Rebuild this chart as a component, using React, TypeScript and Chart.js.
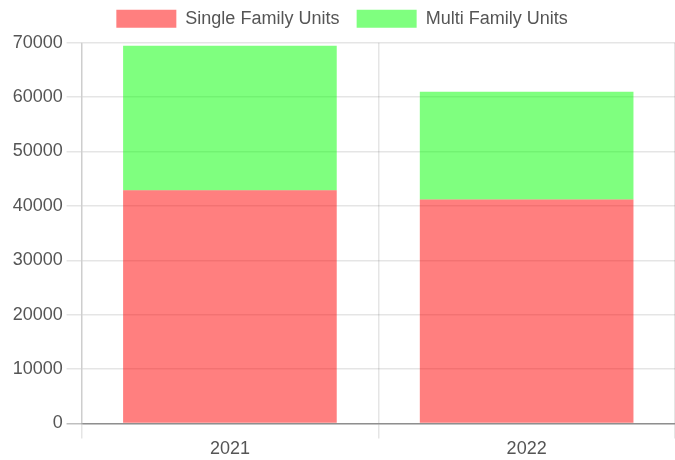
import React, { useEffect, useRef } from "react";
import { Chart, registerables } from "chart.js";

Chart.register(...registerables);

const categories = ["2021", "2022"];
const singleFamily = [42900, 41200];
const multiFamily = [26550, 19800];
const yTicks = [0, 10000, 20000, 30000, 40000, 50000, 60000, 70000];

export default function App() {
  const ref = useRef<HTMLCanvasElement>(null);
  useEffect(() => {
    if (!ref.current) return;
    Chart.defaults.color = "#555";
    Chart.defaults.font.family = "Arial, 'Liberation Sans', sans-serif";
    const chart = new Chart(ref.current, {
      type: "bar",
      data: {
        labels: categories,
        datasets: [
          { label: "Single Family Units", data: singleFamily, backgroundColor: "rgba(255,0,0,0.5)", borderWidth: 0 },
          { label: "Multi Family Units", data: multiFamily, backgroundColor: "rgba(0,255,0,0.5)", borderWidth: 0 },
        ],
      },
      options: {
        animation: false,
        responsive: true,
        maintainAspectRatio: false,
        devicePixelRatio: 1.5,
        layout: { padding: { top: -5, left: 6, right: 0, bottom: 0 } },
        plugins: {
          legend: { position: "top", labels: { padding: 11.5 } },
          tooltip: { enabled: false },
        },
        scales: {
          x: {
            stacked: true,
            grid: { tickLength: 10 },
            border: { color: "rgba(0,0,0,0.25)" },
            ticks: { padding: 0 },
          },
          y: {
            stacked: true,
            min: yTicks[0],
            max: yTicks[yTicks.length - 1],
            grid: {
              tickLength: 10,
              color: (ctx: any) => (ctx.tick && ctx.tick.value === 0 ? "rgba(0,0,0,0.25)" : "rgba(0,0,0,0.1)"),
            },
            afterBuildTicks: (axis: any) => {
              axis.ticks = yTicks.map((v) => ({ value: v }));
            },
            ticks: { padding: 2.5, callback: (v: any) => String(v) },
          },
        },
      },
    });
    return () => chart.destroy();
  }, []);
  return (
    <div style={{ position: "fixed", left: 0, top: 0, width: 450, height: 460 / 1.5, transform: "scale(1.5)", transformOrigin: "0 0" }}>
      <canvas ref={ref} />
    </div>
  );
}
